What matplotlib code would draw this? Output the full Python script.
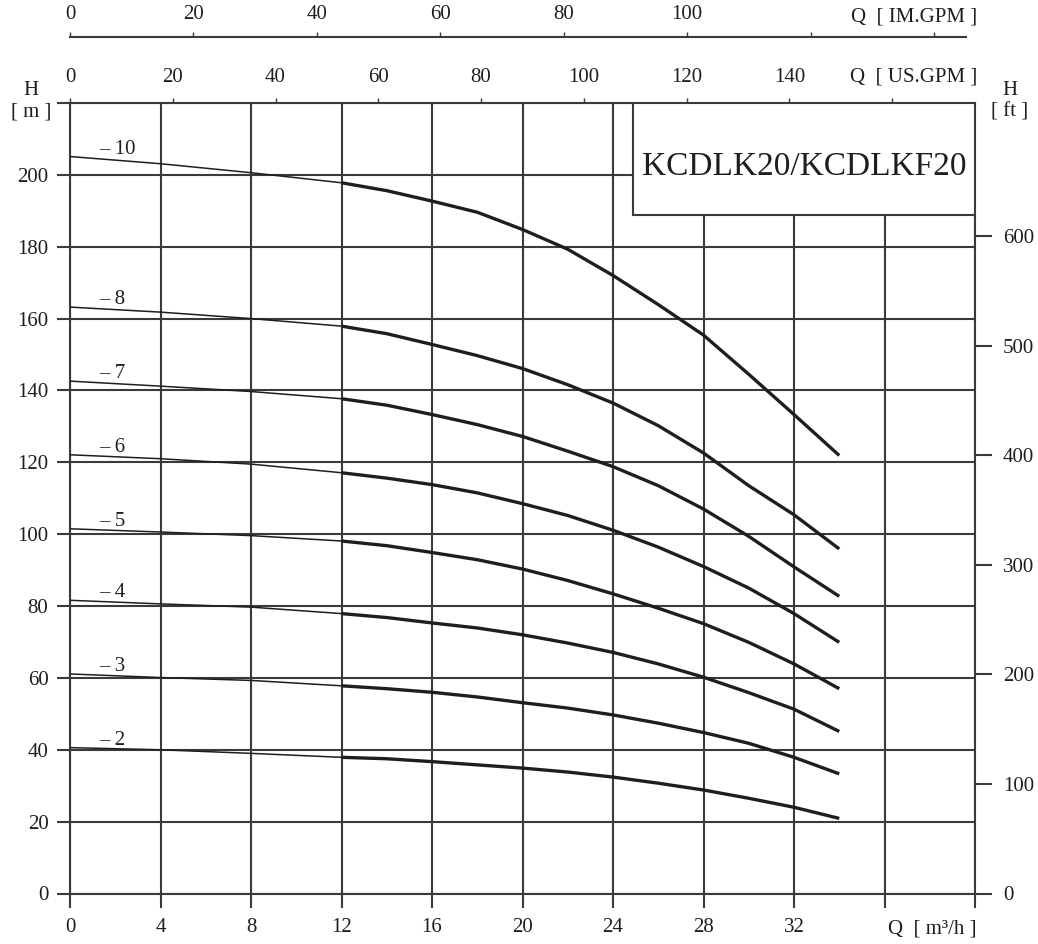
import matplotlib
import matplotlib.pyplot as plt
from matplotlib.patches import Rectangle
from matplotlib.ticker import FixedLocator, FuncFormatter

matplotlib.use("Agg")
plt.rcParams["font.family"] = ["Liberation Serif", "DejaVu Serif"]

# flow rate Q [m3/h] and head H [m]
flow = [0, 4, 8, 12, 14, 16, 18, 20, 22, 24, 26, 28, 30, 32, 34]
stages = ["10", "8", "7", "6", "5", "4", "3", "2"]
head_10 = [205.1, 203.1, 200.6, 197.8, 195.6, 192.7, 189.6, 184.8, 179.3, 172.0, 163.9, 155.4, 144.5, 133.3, 121.9]
head_8 = [163.2, 161.8, 160.0, 157.9, 155.8, 152.8, 149.7, 146.1, 141.6, 136.5, 130.2, 122.6, 113.5, 105.4, 95.9]
head_7 = [142.6, 141.2, 139.7, 137.7, 135.9, 133.3, 130.5, 127.2, 123.1, 118.8, 113.5, 107.0, 99.4, 90.9, 82.7]
head_6 = [122.1, 121.0, 119.5, 117.1, 115.6, 113.8, 111.5, 108.5, 105.2, 101.1, 96.4, 91.0, 85.0, 77.9, 69.9]
head_5 = [101.5, 100.6, 99.6, 98.1, 96.8, 94.9, 92.9, 90.3, 87.1, 83.4, 79.4, 75.1, 69.9, 63.9, 57.0]
head_4 = [81.6, 80.6, 79.7, 77.9, 76.8, 75.3, 73.9, 72.0, 69.7, 67.1, 63.9, 60.2, 55.9, 51.3, 45.1]
head_3 = [61.1, 60.1, 59.3, 57.8, 57.0, 56.0, 54.7, 53.1, 51.6, 49.7, 47.4, 44.8, 41.8, 37.9, 33.3]
head_2 = [40.6, 40.0, 39.0, 37.9, 37.5, 36.7, 35.8, 34.9, 33.8, 32.4, 30.7, 28.8, 26.5, 24.0, 20.9]
heads = [head_10, head_8, head_7, head_6, head_5, head_4, head_3, head_2]

x_ticks = [0, 4, 8, 12, 16, 20, 24, 28, 32, 36, 40]
y_ticks = [0, 20, 40, 60, 80, 100, 120, 140, 160, 180, 200, 220]
ft_ticks = [0, 100, 200, 300, 400, 500, 600]
us_ticks = [0, 20, 40, 60, 80, 100, 120, 140, 160]
im_ticks = [0, 20, 40, 60, 80, 100, 120, 140]

M3H_TO_USGPM = 4.40287
M3H_TO_IMGPM = 3.66615
M_TO_FT = 3.28084

INK = "#1e1e1e"
GRID = "#3a3a3a"
THIN_SPLIT = 3  # curves are thin up to Q=12, bold after

fig = plt.figure(figsize=(10.38, 9.44), dpi=100)
ax = fig.add_axes([70 / 1038, 50.5 / 944, 905 / 1038, 790.5 / 944])
ax.set_xlim(0, 40)
ax.set_ylim(0, 220)

for spine in ax.spines.values():
    spine.set_color(GRID)
    spine.set_linewidth(1.5)

ax.xaxis.set_major_locator(FixedLocator(x_ticks))
ax.yaxis.set_major_locator(FixedLocator(y_ticks))
ax.xaxis.set_major_formatter(FuncFormatter(lambda v, p: f"{v:.0f}" if v <= 32 else ""))
ax.yaxis.set_major_formatter(FuncFormatter(lambda v, p: f"{v:.0f}" if v <= 200 else ""))
ax.tick_params(axis="x", direction="out", length=10, width=1.5, color=GRID,
               pad=8, labelsize=15, labelcolor=INK)
ax.tick_params(axis="y", direction="out", length=9.5, width=1.5, color=GRID,
               pad=6, labelsize=15, labelcolor=INK)
ax.grid(True, color=GRID, linewidth=1.5, zorder=1)
ax.set_axisbelow(True)

for name, h in zip(stages, heads):
    ax.plot(flow[:THIN_SPLIT + 1], h[:THIN_SPLIT + 1], color=INK, linewidth=1.1,
            solid_capstyle="butt", zorder=3)
    ax.plot(flow[THIN_SPLIT:], h[THIN_SPLIT:], color=INK, linewidth=2.4,
            solid_capstyle="butt", solid_joinstyle="round", zorder=3)
    ax.text(1.3, h[0] + 0.8, f"\u2013 {name}", fontsize=15, color=INK,
            ha="left", va="baseline", zorder=4)

# model name box in the upper right corner
ax.add_patch(Rectangle((0.622, 0.858), 0.378, 0.142, transform=ax.transAxes,
                       facecolor="white", edgecolor=GRID, linewidth=1.5, zorder=5))
ax.text(0.811, 0.919, "KCDLK20/KCDLKF20", transform=ax.transAxes, fontsize=24,
        color=INK, ha="center", va="center", zorder=6)

# right axis in feet
ax_ft = ax.twinx()
ax_ft.set_ylim(0, 220 * M_TO_FT)
ax_ft.yaxis.set_major_locator(FixedLocator(ft_ticks))
ax_ft.tick_params(axis="y", direction="out", length=12, width=1.5, color=GRID,
                  pad=8, labelsize=15, labelcolor=INK)
for spine in ax_ft.spines.values():
    spine.set_visible(False)

# US gallons along the top edge
ax_us = ax.secondary_xaxis("top", functions=(lambda q: q * M3H_TO_USGPM,
                                             lambda g: g / M3H_TO_USGPM))
ax_us.xaxis.set_major_locator(FixedLocator(us_ticks))
ax_us.xaxis.set_major_formatter(FuncFormatter(lambda v, p: f"{v:.0f}" if v <= 140 else ""))
ax_us.tick_params(axis="x", direction="out", length=3.5, width=1.0, color=GRID,
                  pad=8, labelsize=15, labelcolor=INK)
ax_us.spines["top"].set_visible(False)

# imperial gallons on a separate scale line above
ax_im = ax.secondary_xaxis(1 + 65.5 / 790.5, functions=(lambda q: q * M3H_TO_IMGPM,
                                                       lambda g: g / M3H_TO_IMGPM))
ax_im.xaxis.set_major_locator(FixedLocator(im_ticks))
ax_im.xaxis.set_major_formatter(FuncFormatter(lambda v, p: f"{v:.0f}" if v <= 100 else ""))
ax_im.tick_params(axis="x", direction="out", length=3.5, width=1.0, color=GRID,
                  pad=6, labelsize=15, labelcolor=INK)
ax_im.spines["top"].set_color(GRID)
ax_im.spines["top"].set_linewidth(1.5)
ax_im.spines["top"].set_bounds(0, 145.2)

# unit labels
fig.text(31 / 1038, 1 - 101 / 944, "H\n[ m ]", fontsize=15, color=INK,
         ha="center", va="center", linespacing=1.15)
fig.text(1010 / 1038, 1 - 101 / 944, "H\n[ ft ]", fontsize=15, color=INK,
         ha="center", va="center", linespacing=1.15)
fig.text(977 / 1038, 1 - 77 / 944, "Q  [ US.GPM ]", fontsize=15, color=INK,
         ha="right", va="center")
fig.text(977 / 1038, 1 - 17 / 944, "Q  [ IM.GPM ]", fontsize=15, color=INK,
         ha="right", va="center")
fig.text(977 / 1038, 1 - 929 / 944, "Q  [ m\u00b3/h ]", fontsize=15, color=INK,
         ha="right", va="center")

fig.savefig("out.png", dpi=100, facecolor="white")
